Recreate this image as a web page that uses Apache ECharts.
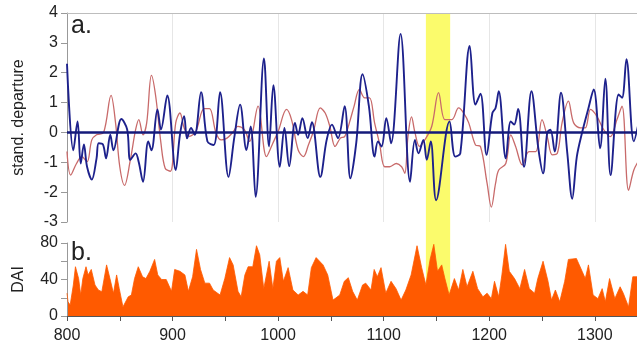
<!DOCTYPE html>
<html>
<head>
<meta charset="utf-8">
<script src="https://cdn.jsdelivr.net/npm/echarts@6/dist/echarts.min.js"></script>
<style>
  html, body { margin: 0; padding: 0; background: #fff; }
  #chart { width: 637px; height: 347px; }
</style>
</head>
<body>
<div id="chart"></div>
<script>
// x range and highlighted band (years)
var yearMin = 800, yearMax = 1340;
var bandStart = 1140, bandEnd = 1163;

// a. blue index (standardised departure)
var blueYear = [800, 806, 810, 813, 816, 819, 823.5, 828, 830, 834, 837, 841, 844, 851.5, 857, 860, 865, 868, 872, 877,
  880, 885.7, 889, 895, 903, 907, 911, 913.7, 917.5, 921, 927, 933, 939, 945, 953, 958.6, 964, 970, 974, 978.7,
  986.6, 991.4, 995.5, 1001.6, 1006, 1010.5, 1016, 1019, 1023, 1028, 1032, 1040, 1046, 1051, 1056.7, 1063, 1068.5, 1074, 1080, 1086,
  1091.4, 1094.6, 1098, 1102.5, 1107, 1116, 1125, 1129.6, 1133, 1137.6, 1140.8, 1144.6, 1149.7, 1162.4, 1167.8, 1172.6, 1181.5, 1187, 1191.7, 1197.5,
  1203, 1206, 1209, 1215.7, 1220.4, 1223.6, 1227.4, 1233, 1240, 1246.5, 1251, 1255, 1258, 1262, 1268, 1274, 1278.6, 1283, 1288, 1293.7,
  1299, 1305, 1310, 1315, 1322.6, 1325.8, 1330, 1337, 1342];
var blueVal = [2.3, -0.6, 0.37, -1.04, -0.4, -1.15, -1.58, -0.87, -0.36, -0.4, -0.87, -0.08, -0.6, 0.45, 0.1, -0.92, -0.7, -1.0, -1.65, -0.3,
  -0.6, 0.77, 0.1, 1.24, -1.26, -0.08, 0.54, -0.2, 0.15, -0.08, 1.35, -0.3, -0.42, 1.35, -1.49, -0.14, 0.93, -0.59, 0.2, -2.16,
  2.48, -0.47, 1.58, -1.15, 0.15, -1.13, 0.32, -0.08, 0.48, -0.19, 0.34, -1.49, -0.25, 0.26, -0.19, 0.88, -1.54, -0.36, 1.95, 0.88,
  -0.81, -0.3, -0.47, 0.48, -0.36, 3.3, -1.65, -0.25, -0.7, -0.25, -0.92, -0.3, -2.27, 0.37, -0.81, -0.7, 2.9, 0.93, 1.3, -0.75,
  0.65, 0.82, 1.38, -0.87, 0.37, 0.26, 0.79, -1.15, 1.38, -0.53, -1.37, 0, 0.09, -0.64, 1.33, -0.7, -2.22, -0.81, 0, 0.77,
  1.44, -0.53, 1.8, -1.43, 1.27, 1.16, 2.45, -0.3, 0.4];

// a. red index
var redYear = [800, 803.5, 809, 814, 819, 823.5, 828, 834.7, 841.7, 846, 850, 854.5, 860, 865, 868, 872, 875.5, 880, 884, 889,
  893, 898, 903, 907, 911, 916, 922, 930, 935, 941, 946, 951.6, 957, 961.8, 968, 973, 981, 989, 995, 1000,
  1008, 1012.7, 1019, 1024, 1028.7, 1033.4, 1040, 1044.6, 1049, 1054, 1059, 1063, 1067.5, 1072, 1077, 1082, 1086.6, 1091.4, 1096, 1101,
  1105.7, 1112, 1117, 1120, 1123, 1126.4, 1129.6, 1134, 1139, 1145.5, 1152, 1158, 1164.6, 1171, 1175.8, 1180.6, 1187, 1191.7, 1198, 1202,
  1206, 1209, 1215.7, 1220.4, 1225, 1231.4, 1237.7, 1244, 1250, 1255, 1259.7, 1264.5, 1269, 1275, 1280, 1286.5, 1291, 1296, 1302, 1308.5,
  1314.8, 1321, 1325.8, 1332, 1337, 1342];
var redVal = [-0.64, -1.43, -1.04, -0.81, -0.98, -0.25, -0.08, 0, 1.24, 0.32, -1.15, -1.77, -0.92, 0.09, 0.43, -0.08, 0.32, 1.91, 1.22, -0.36,
  -1.2, -1.3, 0.32, 0.65, 0.15, -0.13, 0.03, 0.8, 0.8, 0, -0.25, -0.19, 0, 0.2, 0.09, -0.3, 0.88, -0.81, -0.36, 0.03,
  0.77, 0.43, -0.59, -0.81, -0.42, 0.03, 0.82, 0.65, 0.2, -0.47, -0.19, -0.14, 0.32, 0.88, 1.44, 1.16, 1.16, 0.32, -0.36, -1.15,
  -1.15, -1.04, -1.15, -1.37, -0.14, 0.52, 0, -0.47, -0.25, 0.2, 1.33, 0.43, 0.43, 0.82, 0.65, 0.32, -0.42, -0.47, -1.71, -2.5,
  -1.71, -1.26, -1.04, -0.08, -0.47, -1.09, -0.64, -0.64, 0.43, -0.14, -0.75, -0.7, 0.32, 1.05, 0.32, 0.15, 0.15, 0.77, 0.54, 0.09,
  -0.14, 0.43, 0.88, -1.94, -1.26, -0.92];

// b. DAI
var daiYear = [800, 801, 803, 806, 808, 811, 813, 815, 818, 820, 823, 826.5, 829.7, 833, 837.5, 840.7, 844, 847, 849.5, 853,
  858, 861, 864, 867.5, 871.6, 874.8, 878.5, 883, 886, 889.6, 894, 899, 902, 907, 911.7, 915, 919, 922.7, 926.5, 930.6,
  935, 938.5, 945, 949.5, 954, 957.4, 962, 965, 968.5, 971.6, 976, 979.5, 982.6, 986.4, 991.5, 995, 998.4, 1001.6, 1005, 1009.5,
  1014, 1019, 1023.6, 1028, 1031.5, 1036, 1042.6, 1047, 1052, 1058.4, 1062.7, 1066.5, 1070.6, 1075, 1080, 1083, 1088, 1091, 1094, 1097.5,
  1102, 1107, 1111.7, 1116.5, 1121, 1126, 1131.6, 1136, 1140, 1144, 1147.5, 1151, 1155, 1158, 1162, 1167, 1171, 1175, 1179, 1184.5,
  1189, 1194, 1198, 1202, 1205, 1209, 1212, 1215.5, 1219, 1224, 1229, 1233.5, 1238, 1243, 1246, 1251, 1255.7, 1259, 1262.7, 1266.8,
  1271.5, 1275, 1282.6, 1288, 1291, 1294, 1298.4, 1303, 1307, 1310, 1314, 1319, 1324, 1327, 1332, 1336, 1340];
var daiVal = [25, 15.5, 12, 34, 54, 41, 23, 41, 54, 45, 51, 34, 28.5, 26.7, 56, 41, 24.8, 45, 30, 10,
  21, 23, 41, 54, 43, 41, 49, 62, 45, 40, 40, 27, 51, 49, 45, 27, 43, 73, 51, 36,
  36, 28.5, 23, 41, 64, 56, 27, 21, 45, 54, 54, 77, 67, 30, 60, 30, 60, 64, 38, 53,
  28.5, 23, 27, 23, 53, 64, 56, 45, 17.4, 23, 38, 42, 27, 17.4, 34, 36, 28.5, 51, 43, 53,
  25, 38, 30, 17.4, 28.5, 45, 77, 53, 34, 62, 78.5, 49, 56, 41, 23, 41, 28.5, 51, 32, 49,
  30, 21, 25, 19, 38, 21, 45, 78.5, 49, 41, 30, 51, 30, 25, 41, 60, 38, 17.4, 28.5, 15.5,
  38, 62, 63, 49, 41, 56, 23, 19, 30, 15.5, 41, 19, 32, 25, 10, 43, 43];

function zip(xs, ys) {
  return xs.map(function (x, i) { return [x, ys[i]]; });
}

var chart = echarts.init(document.getElementById('chart'));
var font = 'Liberation Sans, Arial, sans-serif';
var textColor = '#222';

chart.setOption({
  animation: false,
  backgroundColor: '#fff',
  textStyle: { fontFamily: font },
  title: [
    { text: 'a.', left: 66, top: 9, textStyle: { fontSize: 25, fontWeight: 'normal', color: textColor, fontFamily: font } },
    { text: 'b.', left: 66, top: 236, textStyle: { fontSize: 25, fontWeight: 'normal', color: textColor, fontFamily: font } }
  ],
  grid: [
    { left: 67, right: 0, top: 13, height: 209 },
    { left: 67, right: 0, top: 243, height: 73 },
    { left: 67, right: 0, top: 13, bottom: 31 }
  ],
  xAxis: [
    {
      gridIndex: 0, type: 'value', min: yearMin, max: yearMax, interval: 100, z: 3,
      axisLabel: { show: false }, axisTick: { show: false },
      axisLine: { show: true, lineStyle: { color: '#bdbdbd', width: 1 } },
      splitLine: { show: true, lineStyle: { color: '#e6e6e6' } }
    },
    {
      gridIndex: 1, type: 'value', min: yearMin, max: yearMax, interval: 50, z: 3,
      axisLine: { show: true, lineStyle: { color: '#555', width: 1 } },
      axisTick: { show: true, length: 5, lineStyle: { color: '#555' } },
      axisLabel: {
        fontSize: 16, color: textColor, margin: 12, showMaxLabel: false,
        formatter: function (v) { return v % 100 === 0 ? String(v) : ''; }
      },
      splitLine: { show: false }
    },
    { gridIndex: 2, type: 'value', min: yearMin, max: yearMax, show: false },
    {
      gridIndex: 0, type: 'value', position: 'top', min: yearMin, max: yearMax, z: 3,
      axisLine: { show: true, lineStyle: { color: '#bdbdbd', width: 1 } },
      axisLabel: { show: false }, axisTick: { show: false }, splitLine: { show: false }
    }
  ],
  yAxis: [
    {
      gridIndex: 0, type: 'value', min: -3, max: 4, interval: 1, z: 3,
      name: 'stand. departure', nameLocation: 'middle', nameGap: 40,
      nameTextStyle: { fontSize: 16, color: textColor },
      axisLine: { show: true, lineStyle: { color: '#999' } },
      axisTick: { show: true, length: 6, lineStyle: { color: '#999' } },
      axisLabel: { fontSize: 16, color: textColor, margin: 9 },
      splitLine: { show: false }
    },
    {
      gridIndex: 1, type: 'value', min: 0, max: 80, interval: 20, z: 3,
      name: 'DAI', nameLocation: 'middle', nameGap: 40,
      nameTextStyle: { fontSize: 16, color: textColor },
      axisLine: { show: true, lineStyle: { color: '#999' } },
      axisTick: { show: true, length: 6, lineStyle: { color: '#999' } },
      axisLabel: {
        fontSize: 16, color: textColor, margin: 9,
        formatter: function (v) { return v % 40 === 0 ? String(v) : ''; }
      },
      splitLine: { show: false }
    },
    { gridIndex: 2, type: 'value', min: 0, max: 1, show: false }
  ],
  series: [
    {
      // yellow band across both panels
      type: 'line', xAxisIndex: 2, yAxisIndex: 2, data: [], silent: true, z: 0,
      markArea: {
        silent: true,
        itemStyle: { color: '#fbfb6c' },
        data: [[{ xAxis: bandStart }, { xAxis: bandEnd }]]
      }
    },
    {
      name: 'red', type: 'line', xAxisIndex: 0, yAxisIndex: 0,
      data: zip(redYear, redVal), smooth: 0.35, showSymbol: false,
      lineStyle: { color: '#c86a6a', width: 1.3 }
    },
    {
      name: 'blue', type: 'line', xAxisIndex: 0, yAxisIndex: 0,
      data: zip(blueYear, blueVal), smooth: 0.35, showSymbol: false,
      lineStyle: { color: '#1d218c', width: 1.9 },
      markLine: {
        silent: true, symbol: 'none', label: { show: false },
        lineStyle: { color: '#141a7a', width: 2.5, type: 'solid' },
        data: [{ yAxis: 0 }]
      }
    },
    {
      name: 'DAI', type: 'line', xAxisIndex: 1, yAxisIndex: 1,
      data: zip(daiYear, daiVal), showSymbol: false,
      lineStyle: { color: '#ff5a00', width: 0.8 },
      areaStyle: { color: '#ff5a00', opacity: 1 }
    }
  ]
});

window.addEventListener('resize', chart.resize);
</script>
</body>
</html>
